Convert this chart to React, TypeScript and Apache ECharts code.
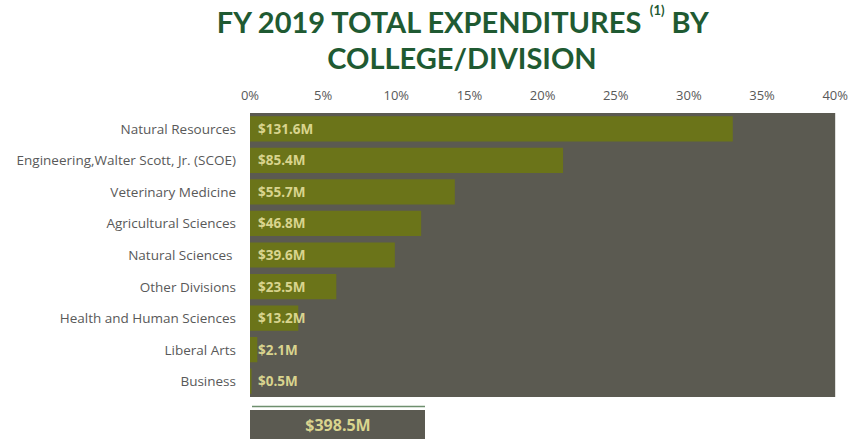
import React, { useEffect, useRef } from "react";
import * as echarts from "echarts";

const categories = [
  "Natural Resources",
  "Engineering,Walter Scott, Jr. (SCOE)",
  "Veterinary Medicine",
  "Agricultural Sciences",
  "Natural Sciences ",
  "Other Divisions",
  "Health and Human Sciences",
  "Liberal Arts",
  "Business",
];
const sharePct = [33.0, 21.4, 14.0, 11.7, 9.9, 5.9, 3.3, 0.5, 0.1];
const dollarLabels = ["$131.6M", "$85.4M", "$55.7M", "$46.8M", "$39.6M", "$23.5M", "$13.2M", "$2.1M", "$0.5M"];
const totalLabel = "$398.5M";
const xTicks = { min: 0, max: 40, interval: 5 };

export default function App() {
  const ref = useRef<HTMLDivElement>(null);
  useEffect(() => {
    if (!ref.current) return;
    const chart = echarts.init(ref.current, null, { renderer: "svg" });
    chart.setOption({
      animation: false,
      title: {
        text: "FY 2019 TOTAL EXPENDITURES {sup|(1)} BY\nCOLLEGE/DIVISION",
        left: 457,
        top: -2,
        textAlign: "center",
        textStyle: {
          fontFamily: "Lato",
          fontWeight: "bold",
          fontSize: 29,
          color: "#1f5a32",
          lineHeight: 36,
          rich: {
            sup: {
              fontFamily: "Lato",
              fontWeight: "bold",
              fontSize: 13,
              color: "#1f5a32",
              verticalAlign: "top",
              padding: [0, 0, 4, 0],
            },
          },
        },
      },
      grid: {
        left: 250,
        right: 15,
        top: 113,
        bottom: 42,
        show: true,
        backgroundColor: "#5b5a51",
        borderWidth: 0,
      },
      xAxis: {
        type: "value",
        position: "top",
        min: xTicks.min,
        max: xTicks.max,
        interval: xTicks.interval,
        axisLabel: {
          formatter: "{value}%",
          color: "#595959",
          fontFamily: "Open Sans",
          fontSize: 13,
          margin: 12,
        },
        axisLine: { show: false },
        axisTick: { show: false },
        splitLine: { show: false },
      },
      yAxis: {
        type: "category",
        inverse: true,
        data: categories,
        axisLabel: {
          color: "#595959",
          fontFamily: "Open Sans",
          fontSize: 13.5,
          margin: 14,
        },
        axisLine: { show: false },
        axisTick: { show: false },
      },
      series: [
        {
          type: "bar",
          data: sharePct,
          barCategoryGap: "20%",
          itemStyle: { color: "#6b7419" },
          label: {
            show: true,
            position: "insideLeft",
            distance: 8,
            formatter: (p: any) => dollarLabels[p.dataIndex],
            color: "#d9d48e",
            fontFamily: "Open Sans",
            fontWeight: "bold",
            fontSize: 13.5,
          },
        },
      ],
      graphic: [
        {
          type: "line",
          shape: { x1: 252, y1: 406.5, x2: 425, y2: 406.5 },
          style: { stroke: "#6e8f6e", lineWidth: 1.5 },
        },
        {
          type: "rect",
          shape: { x: 250, y: 410, width: 175, height: 35 },
          style: { fill: "#5b5a51" },
        },
        {
          type: "text",
          x: 338,
          y: 425,
          style: {
            text: totalLabel,
            fill: "#d9d48e",
            font: "bold 16px 'Open Sans'",
            textAlign: "center",
            textVerticalAlign: "middle",
          },
        },
      ],
    });
    return () => chart.dispose();
  }, []);
  return <div ref={ref} style={{ width: 851, height: 439, position: "absolute", left: 0, top: 0 }} />;
}
